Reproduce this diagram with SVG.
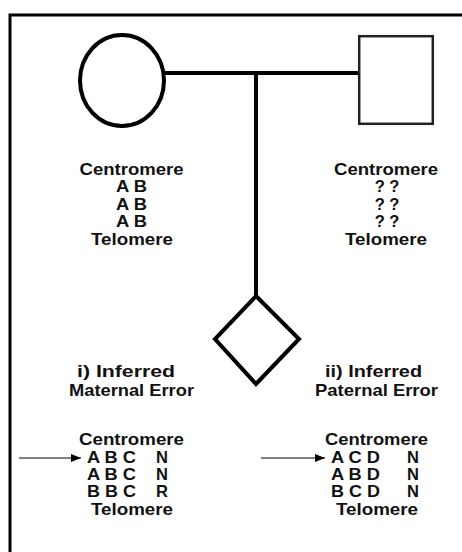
<svg xmlns="http://www.w3.org/2000/svg" width="462" height="552" viewBox="0 0 462 552">
<defs>
<style>
.t{font-family:"Liberation Sans",Arial,sans-serif;font-weight:bold;font-size:16.5px;fill:#111;}
.l{font-size:17px;}
.ln{stroke:#000;stroke-width:4;fill:none;}
.ar{stroke:#000;stroke-width:1.2;fill:none;}
</style>
<marker id="ah" markerWidth="10" markerHeight="8" refX="10" refY="4" orient="auto" markerUnits="userSpaceOnUse">
<path d="M0,0 L10,4 L0,8 Z" fill="#000"/>
</marker>
</defs>
<rect width="462" height="552" fill="#fff"/>
<path d="M10,552 V15 H462" stroke="#000" stroke-width="3" fill="none"/>
<g id="connectors">
<line class="ln" x1="164" y1="73" x2="359" y2="73"/>
<line class="ln" x1="256" y1="73" x2="256" y2="296"/>
<line class="ar" x1="19" y1="458" x2="81" y2="458" marker-end="url(#ah)"/>
<line class="ar" x1="261" y1="458" x2="325" y2="458" marker-end="url(#ah)"/>
</g>
<g id="mother">
<ellipse cx="122" cy="80.5" rx="42" ry="45.5" class="ln"/>
</g>
<g id="father">
<rect x="359.2" y="36.2" width="73.6" height="87.6" fill="none" stroke="#222" stroke-width="2.5"/>
</g>
<g id="child">
<polygon points="256,296 299,339 256,384 215,339" class="ln"/>
</g>
<g id="mother-haplotype" class="t" text-anchor="middle">
<text x="131.5" y="175" textLength="104" lengthAdjust="spacingAndGlyphs">Centromere</text>
<text x="131.5" y="192" textLength="31" lengthAdjust="spacingAndGlyphs">A B</text>
<text x="131.5" y="210" textLength="31" lengthAdjust="spacingAndGlyphs">A B</text>
<text x="131.5" y="227" textLength="31" lengthAdjust="spacingAndGlyphs">A B</text>
<text x="132" y="245" textLength="82" lengthAdjust="spacingAndGlyphs">Telomere</text>
</g>
<g id="father-haplotype" class="t" text-anchor="middle">
<text x="386" y="175" textLength="104" lengthAdjust="spacingAndGlyphs">Centromere</text>
<text x="387" y="192">? ?</text>
<text x="387" y="210">? ?</text>
<text x="387" y="227">? ?</text>
<text x="386" y="245" textLength="82" lengthAdjust="spacingAndGlyphs">Telomere</text>
</g>
<g id="maternal-error" class="t">
<text class="l" x="126" y="377" text-anchor="middle" textLength="98" lengthAdjust="spacingAndGlyphs">i) Inferred</text>
<text class="l" x="131.5" y="396" text-anchor="middle" textLength="125" lengthAdjust="spacingAndGlyphs">Maternal Error</text>
<text x="131.5" y="445" text-anchor="middle" textLength="105" lengthAdjust="spacingAndGlyphs">Centromere</text>
<text x="87" y="463" textLength="49" lengthAdjust="spacingAndGlyphs">A B C</text>
<text x="156" y="463">N</text>
<text x="87" y="480" textLength="49" lengthAdjust="spacingAndGlyphs">A B C</text>
<text x="156" y="480">N</text>
<text x="87" y="497" textLength="49" lengthAdjust="spacingAndGlyphs">B B C</text>
<text x="156" y="497">R</text>
<text x="132" y="515" text-anchor="middle" textLength="82" lengthAdjust="spacingAndGlyphs">Telomere</text>
</g>
<g id="paternal-error" class="t">
<text class="l" x="373.5" y="377" text-anchor="middle" textLength="97" lengthAdjust="spacingAndGlyphs">ii) Inferred</text>
<text class="l" x="376.5" y="396" text-anchor="middle" textLength="123" lengthAdjust="spacingAndGlyphs">Paternal Error</text>
<text x="376.5" y="445" text-anchor="middle" textLength="103" lengthAdjust="spacingAndGlyphs">Centromere</text>
<text x="331" y="463" textLength="49" lengthAdjust="spacingAndGlyphs">A C D</text>
<text x="407" y="463">N</text>
<text x="331" y="480" textLength="49" lengthAdjust="spacingAndGlyphs">A B D</text>
<text x="407" y="480">N</text>
<text x="331" y="497" textLength="49" lengthAdjust="spacingAndGlyphs">B C D</text>
<text x="407" y="497">N</text>
<text x="377" y="515" text-anchor="middle" textLength="82" lengthAdjust="spacingAndGlyphs">Telomere</text>
</g>
</svg>
